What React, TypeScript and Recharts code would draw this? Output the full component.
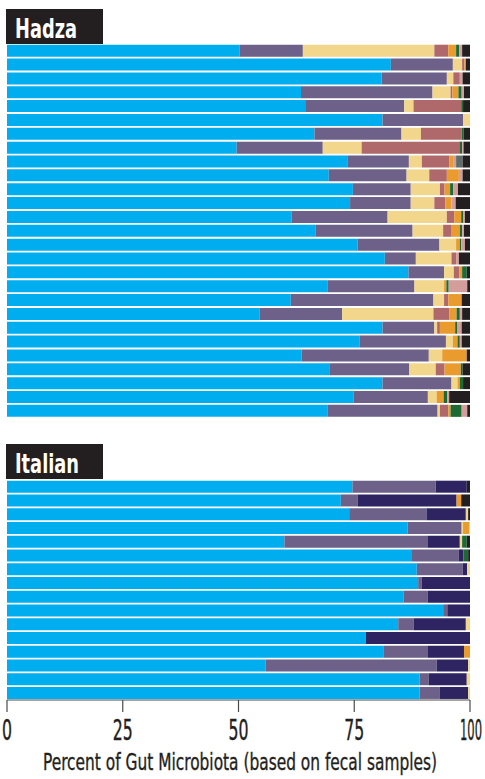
import React from 'react';
import { BarChart, Bar, XAxis, YAxis, Label } from 'recharts';

// Hadza samples (27 rows, % of each phylum, left to right)
const hadzaIds = Array.from({ length: 27 }, (_, i) => `H${i + 1}`);
const hadzaFirmicutes = [50.2, 82.9, 80.9, 63.5, 64.4, 81.1, 66.4, 49.6, 73.5, 69.5, 74.7, 74.1, 61.5, 66.7, 75.7, 81.6, 86.7, 69.3, 61.3, 54.6, 81.1, 76.2, 63.6, 69.6, 81.1, 74.9, 69.3];
const hadzaBacteroidetes = [13.7, 13.4, 14.1, 28.4, 21.4, 17.4, 18.8, 18.6, 13.3, 16.8, 12.5, 13.1, 20.7, 20.9, 17.7, 6.7, 7.7, 18.7, 30.8, 17.8, 11.2, 18.6, 27.5, 17.3, 14.9, 16.0, 23.7];
const hadzaProteobacteria = [28.4, 2.0, 1.4, 3.9, 2.0, 1.5, 4.2, 8.4, 2.8, 4.9, 6.3, 5.1, 12.8, 6.6, 3.6, 7.7, 2.1, 6.4, 2.3, 19.7, 0.6, 1.5, 2.9, 5.7, 1.3, 1.9, 0.5];
const hadzaSpirochaetes = [3.0, 0.5, 1.4, 0.4, 10.3, 0, 8.8, 21.1, 5.9, 3.8, 1.0, 2.4, 1.6, 1.7, 0, 1.0, 1.2, 0, 0.9, 3.4, 0.6, 0, 0, 1.9, 0, 0, 1.8];
const hadzaActinobacteria = [1.7, 0.3, 0, 1.3, 0, 0, 0, 0, 1.0, 2.6, 1.2, 1.3, 1.5, 1.9, 0.8, 0, 0.6, 0.5, 2.9, 1.6, 3.3, 1.0, 5.3, 3.5, 0.5, 1.5, 0.5];
const hadzaCyanobacteria = [0.7, 0, 0, 0.7, 0.4, 0, 0.4, 0.6, 0, 0, 0.7, 0, 0.4, 0.5, 0.3, 0, 1.0, 0.5, 0, 0.7, 0.4, 0.5, 0, 0.4, 0.7, 0.8, 2.4];
const hadzaTenericutes = [0.6, 0, 0.6, 0.5, 0, 0, 0, 0.3, 0.5, 0.8, 1.0, 0.9, 0.4, 0.4, 0.8, 0.6, 0, 4.0, 0, 0.5, 1.0, 0.4, 0, 0, 0, 0.4, 1.2];
const hadzaEuryarchaeota = [0, 0, 0, 0, 0, 0, 0, 0, 1.4, 0, 0, 0, 0, 0, 0, 0, 0, 0, 0, 0, 0, 0, 0, 0, 0, 0, 0];
const hadzaUnclassified = [1.7, 0.9, 1.6, 1.3, 1.5, 0, 1.4, 1.4, 1.6, 1.6, 2.6, 3.1, 1.1, 1.3, 1.1, 2.4, 0.7, 0.6, 1.8, 1.7, 1.8, 1.8, 0.7, 1.6, 1.5, 4.5, 0.6];

// Italian samples (16 rows)
const italianIds = Array.from({ length: 16 }, (_, i) => `I${i + 1}`);
const italianFirmicutes = [74.6, 72.1, 73.9, 86.5, 59.9, 87.3, 88.5, 88.8, 85.7, 94.2, 84.5, 77.5, 81.4, 55.9, 89.1, 89.1];
const italianBacteroidetes = [18.0, 3.6, 16.7, 11.7, 30.9, 10.3, 9.9, 0.8, 5.2, 0.9, 3.3, 0, 9.4, 36.9, 2.0, 4.3];
const italianBifido = [6.7, 21.4, 8.5, 0, 7.0, 1.0, 1.0, 10.4, 9.1, 4.9, 11.3, 22.5, 7.9, 6.8, 8.2, 6.2];
const italianProteobacteria = [0, 0, 0.5, 0.3, 0.5, 0, 0.6, 0, 0, 0, 0.9, 0, 0, 0.4, 0.7, 0.4];
const italianActinobacteria = [0, 1.0, 0, 1.4, 0, 0, 0, 0, 0, 0, 0, 0, 1.3, 0, 0, 0];
const italianCyanobacteria = [0, 0, 0, 0, 1.0, 1.0, 0, 0, 0, 0, 0, 0, 0, 0, 0, 0];
const italianUnclassified = [0.7, 1.9, 0.4, 0, 0.7, 0.4, 0, 0, 0, 0, 0, 0, 0, 0, 0, 0];

const xTicks = [0, 25, 50, 75, 100];

const hadzaSeries = [
  { key: 'firm', values: hadzaFirmicutes, color: '#00AEEF' },
  { key: 'bact', values: hadzaBacteroidetes, color: '#6D6189' },
  { key: 'prot', values: hadzaProteobacteria, color: '#F2D68C' },
  { key: 'spiro', values: hadzaSpirochaetes, color: '#B0696A' },
  { key: 'actino', values: hadzaActinobacteria, color: '#E99B2D' },
  { key: 'cyano', values: hadzaCyanobacteria, color: '#1D6A34' },
  { key: 'tener', values: hadzaTenericutes, color: '#D39D9B' },
  { key: 'eury', values: hadzaEuryarchaeota, color: '#5D6C66' },
  { key: 'uncl', values: hadzaUnclassified, color: '#231F20' },
];

const italianSeries = [
  { key: 'firm', values: italianFirmicutes, color: '#00AEEF' },
  { key: 'bact', values: italianBacteroidetes, color: '#6D6189' },
  { key: 'bifido', values: italianBifido, color: '#2E2462' },
  { key: 'prot', values: italianProteobacteria, color: '#F2D68C' },
  { key: 'actino', values: italianActinobacteria, color: '#E99B2D' },
  { key: 'cyano', values: italianCyanobacteria, color: '#1D6A34' },
  { key: 'uncl', values: italianUnclassified, color: '#231F20' },
];

const buildRows = (ids: string[], series: { key: string; values: number[] }[]) =>
  ids.map((id, i) => {
    const row: Record<string, string | number> = { id };
    series.forEach((s) => (row[s.key] = s.values[i]));
    return row;
  });

const hadzaData = buildRows(hadzaIds, hadzaSeries);
const italianData = buildRows(italianIds, italianSeries);

const NARROW = "'Liberation Sans Narrow', 'DejaVu Sans Condensed', 'Roboto Condensed', Arial, sans-serif";

const GroupLabel = ({ text, top, textWidth }: { text: string; top: number; textWidth: number }) => (
  <svg width={97} height={35} style={{ position: 'absolute', left: 6, top }}>
    <rect x={0} y={0} width={97} height={35} fill="#231F20" />
    <text
      x={9}
      y={29}
      fill="#fff"
      fontFamily={NARROW}
      fontWeight="bold"
      fontSize={26}
      textLength={textWidth}
      lengthAdjust="spacingAndGlyphs"
    >
      {text}
    </text>
  </svg>
);

const TickLabel = (props: any) => {
  const { x, y, payload } = props;
  const s = String(payload.value);
  // the last label sits flush with the right edge, as in the print
  const last = payload.value === 100;
  return (
    <text
      x={last ? 482 : x}
      y={y + 26}
      textAnchor={last ? 'end' : 'middle'}
      fill="#231F20"
      stroke="#231F20"
      strokeWidth={0.4}
      fontFamily={NARROW}
      fontSize={28}
      textLength={last ? 22 : s.length * 10}
      lengthAdjust="spacingAndGlyphs"
    >
      {s}
    </text>
  );
};

const AxisTitle = (props: any) => {
  const vb = props.viewBox || { x: 7, y: 700, width: 463 };
  return (
    <text
      x={240}
      y={vb.y + 70}
      textAnchor="middle"
      fill="#231F20"
      stroke="#231F20"
      strokeWidth={0.35}
      fontFamily={NARROW}
      fontSize={23}
      textLength={394}
      lengthAdjust="spacingAndGlyphs"
    >
      Percent of Gut Microbiota (based on fecal samples)
    </text>
  );
};

export default function App() {
  return (
    <div style={{ position: 'absolute', left: 0, top: 0, width: 485, height: 779, background: '#fff', overflow: 'hidden' }}>
      <GroupLabel text="Hadza" top={9} textWidth={62} />
      <div style={{ position: 'absolute', left: 0, top: 0 }}>
        <BarChart
          width={485}
          height={418}
          data={hadzaData}
          layout="vertical"
          barCategoryGap={0.7}
          margin={{ top: 44, right: 15, left: 7, bottom: 0 }}
        >
          <XAxis type="number" domain={[0, 100]} hide allowDataOverflow />
          <YAxis type="category" dataKey="id" hide />
          {hadzaSeries.map((s) => (
            <Bar key={s.key} dataKey={s.key} stackId="a" fill={s.color} isAnimationActive={false} />
          ))}
        </BarChart>
      </div>

      <GroupLabel text="Italian" top={444} textWidth={64} />
      <div style={{ position: 'absolute', left: 0, top: 470 }}>
        <BarChart
          width={485}
          height={309}
          data={italianData}
          layout="vertical"
          barCategoryGap={0.7}
          margin={{ top: 10, right: 15, left: 7, bottom: 0 }}
        >
          <XAxis
            type="number"
            domain={[0, 100]}
            ticks={xTicks}
            allowDataOverflow
            height={79}
            tickSize={12}
            axisLine={{ stroke: '#4a4a4a', strokeWidth: 1.2 }}
            tickLine={{ stroke: '#4a4a4a', strokeWidth: 1.2 }}
            tick={<TickLabel />}
            interval={0}
          >
            <Label content={<AxisTitle />} />
          </XAxis>
          <YAxis type="category" dataKey="id" hide />
          {italianSeries.map((s) => (
            <Bar key={s.key} dataKey={s.key} stackId="a" fill={s.color} isAnimationActive={false} />
          ))}
        </BarChart>
      </div>
    </div>
  );
}
